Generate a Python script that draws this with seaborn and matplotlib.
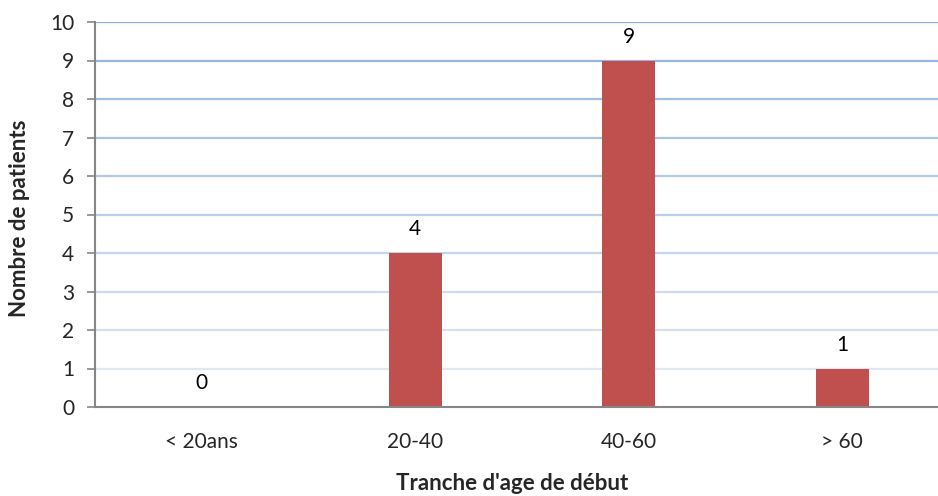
import matplotlib
matplotlib.use("Agg")
import matplotlib.pyplot as plt
import seaborn as sns
import pandas as pd
import numpy as np

categories = ["< 20ans", "20-40", "40-60", "> 60"]
values = [0, 4, 9, 1]
yticks = list(range(0, 11))

sns.set_theme(style="white")
plt.rcParams['font.family'] = ['Lato', 'DejaVu Sans']

df = pd.DataFrame({"cat": categories, "val": values})

fig = plt.figure(figsize=(9.38, 4.96), dpi=100)
ax = fig.add_axes([95/938, 1-407/496, 854/938, (407-22)/496])

# gradient gridlines (Excel style)
top_c = np.array([142, 178, 230]) / 255
bot_c = np.array([222, 231, 243]) / 255
for t in yticks[1:]:
    f = (t - 1) / 9
    c = bot_c + (top_c - bot_c) * f
    ax.axhline(t, color=c, lw=1.6, zorder=0)

sns.barplot(data=df, x="cat", y="val", color="#C0504D", saturation=1,
            width=0.25, ax=ax, zorder=2, edgecolor="none")

for i, v in enumerate(values):
    ax.annotate(str(v), (i, v), xytext=(0, 10), textcoords="offset points",
                ha="center", va="bottom", fontsize=15, color="black")

ax.set_ylim(0, 10)
ax.set_xlim(-0.5, 3.5)
ax.set_yticks(yticks)
ax.set_yticklabels([str(t) for t in yticks], fontsize=15)
ax.tick_params(axis="x", labelsize=15, length=0, pad=18)
ax.tick_params(axis="y", length=6, width=1.2, color="#868686", direction="out", left=True, pad=9)
for s in ["top", "right"]:
    ax.spines[s].set_visible(False)
for s in ["left", "bottom"]:
    ax.spines[s].set_color("#868686")
    ax.spines[s].set_linewidth(1.5)

ax.set_xlabel("")
ax.set_ylabel("")
fig.text(512/938, 1-483/496, "Tranche d'age de début", fontsize=16, fontweight="bold",
         ha="center", va="center")
fig.text(19/938, 1-218/496, "Nombre de patients", fontsize=16, fontweight="bold",
         ha="center", va="center", rotation=90)

fig.savefig("out.png", dpi=100)
